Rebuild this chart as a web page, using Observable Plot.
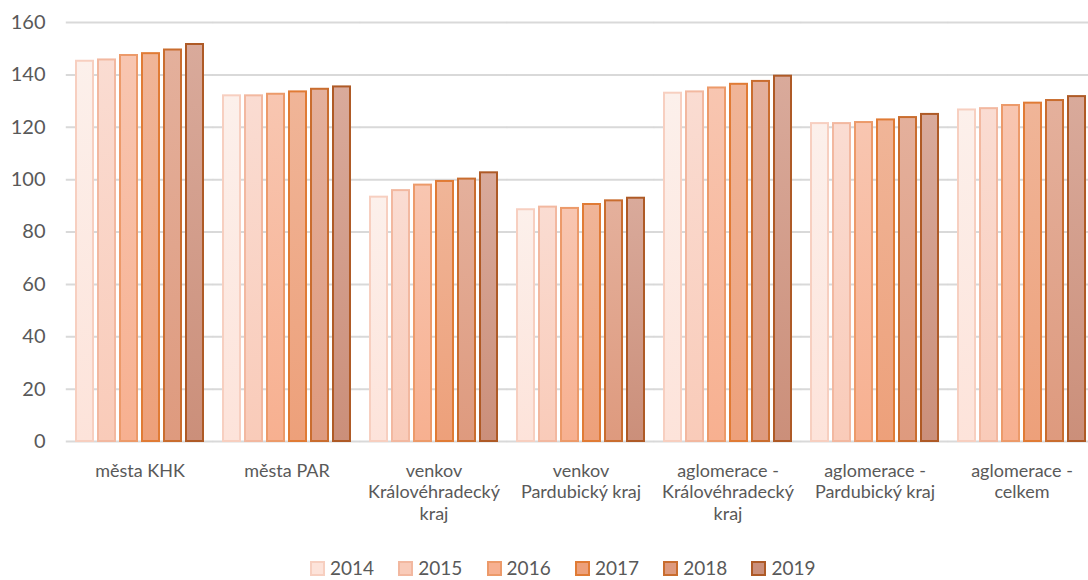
<!DOCTYPE html>
<html><head><meta charset="utf-8">
<script src="https://cdn.jsdelivr.net/npm/d3@7"></script>
<script src="https://cdn.jsdelivr.net/npm/@observablehq/plot@0.6"></script>
<style>
html,body{margin:0;padding:0;background:#fff;overflow:hidden;width:1088px;height:580px}
#chart{position:relative;width:1088px;height:580px;overflow:hidden}
#chart svg{max-width:none !important}
#legend{position:absolute;left:310px;top:560px;display:flex;font-family:Lato,sans-serif;font-size:19px;color:#595959;line-height:16px;height:16px}
.item{display:flex;align-items:center;width:88.3px;height:16px}
.sw{width:15px;height:15px;box-sizing:border-box;border:2px solid;margin-right:5px}
</style></head><body><div id="chart"><div id="legend"></div></div>
<script>
const categories = ["města KHK","města PAR","venkov Královéhradecký kraj","venkov Pardubický kraj","aglomerace - Královéhradecký kraj","aglomerace - Pardubický kraj","aglomerace - celkem"];
const categoryLabels = ["města KHK","města PAR","venkov\nKrálovéhradecký\nkraj","venkov\nPardubický kraj","aglomerace -\nKrálovéhradecký\nkraj","aglomerace -\nPardubický kraj","aglomerace -\ncelkem"];
const years = ["2014","2015","2016","2017","2018","2019"];
const v2014 = [145.2, 132.0, 93.3, 88.5, 133.0, 121.4, 126.6];
const v2015 = [145.7, 132.0, 95.8, 89.5, 133.5, 121.4, 127.1];
const v2016 = [147.4, 132.6, 97.9, 89.0, 135.0, 121.8, 128.3];
const v2017 = [148.1, 133.5, 99.3, 90.5, 136.4, 122.8, 129.2];
const v2018 = [149.5, 134.5, 100.2, 91.9, 137.5, 123.7, 130.2];
const v2019 = [151.6, 135.4, 102.6, 92.9, 139.5, 124.9, 131.7];
const series = [v2014, v2015, v2016, v2017, v2018, v2019];
const yTicks = [0, 20, 40, 60, 80, 100, 120, 140, 160];
const fillTop = ["#fcf0eb","#fadcd2","#f8c6b1","#f0b598","#e4b09c","#d9aa9b"];
const fillBottom = ["#fde3da","#f9cbb9","#f7b090","#eda07a","#de9a7e","#cb8f7a"];
const strokes = ["#f7cfc0","#f2b8a0","#ec9a6a","#e07b35","#c96d2f","#ae5a26"];

const data = [];
years.forEach((y, i) => series[i].forEach((v, j) => data.push({cat: categories[j], year: y, value: v})));
const labelOf = new Map(categories.map((c, i) => [c, categoryLabels[i]]));

const plot = Plot.plot({
  width: 1100, height: 545,
  marginLeft: 66, marginRight: 5, marginTop: 22, marginBottom: 104,
  style: {fontFamily: "Lato, sans-serif", color: "#595959", background: "#fff", maxWidth: "none"},
  fx: {domain: categories, paddingInner: 0.11, paddingOuter: 0.055, label: null, axis: null},
  x: {domain: years, paddingInner: 0.22, paddingOuter: 0, axis: null},
  y: {domain: [0, 160], axis: null},
  marks: [
    Plot.ruleY(yTicks, {stroke: "#d9d9d9", strokeWidth: 2, insetLeft: -8.2, insetRight: -8.2}),
    ...years.map((y, i) => Plot.barY(data.filter(d => d.year === y), {
      fx: "cat", x: "year", y: "value",
      fill: `url(#grad-${y})`, stroke: strokes[i], strokeWidth: 2
    })),
    Plot.axisY(yTicks, {tickSize: 0, tickPadding: 29, fontSize: 20, label: null, fill: "#595959"}),
    Plot.axisFx({anchor: "bottom", tickSize: 0, tickPadding: 20, fontSize: 18, lineHeight: 1.2, label: null, fill: "#595959", tickFormat: c => labelOf.get(c)})
  ]
});

const defs = d3.select(plot).insert("defs", ":first-child");
years.forEach((y, i) => {
  const g = defs.append("linearGradient").attr("id", `grad-${y}`).attr("x1", 0).attr("y1", 0).attr("x2", 0).attr("y2", 1);
  g.append("stop").attr("offset", "0%").attr("stop-color", fillTop[i]);
  g.append("stop").attr("offset", "100%").attr("stop-color", fillBottom[i]);
});

document.getElementById("chart").prepend(plot);

const legend = d3.select("#legend");
years.forEach((y, i) => {
  const it = legend.append("div").attr("class", "item");
  it.append("div").attr("class", "sw").style("background", fillBottom[i]).style("border-color", strokes[i]);
  it.append("span").text(y);
});
</script></body></html>
